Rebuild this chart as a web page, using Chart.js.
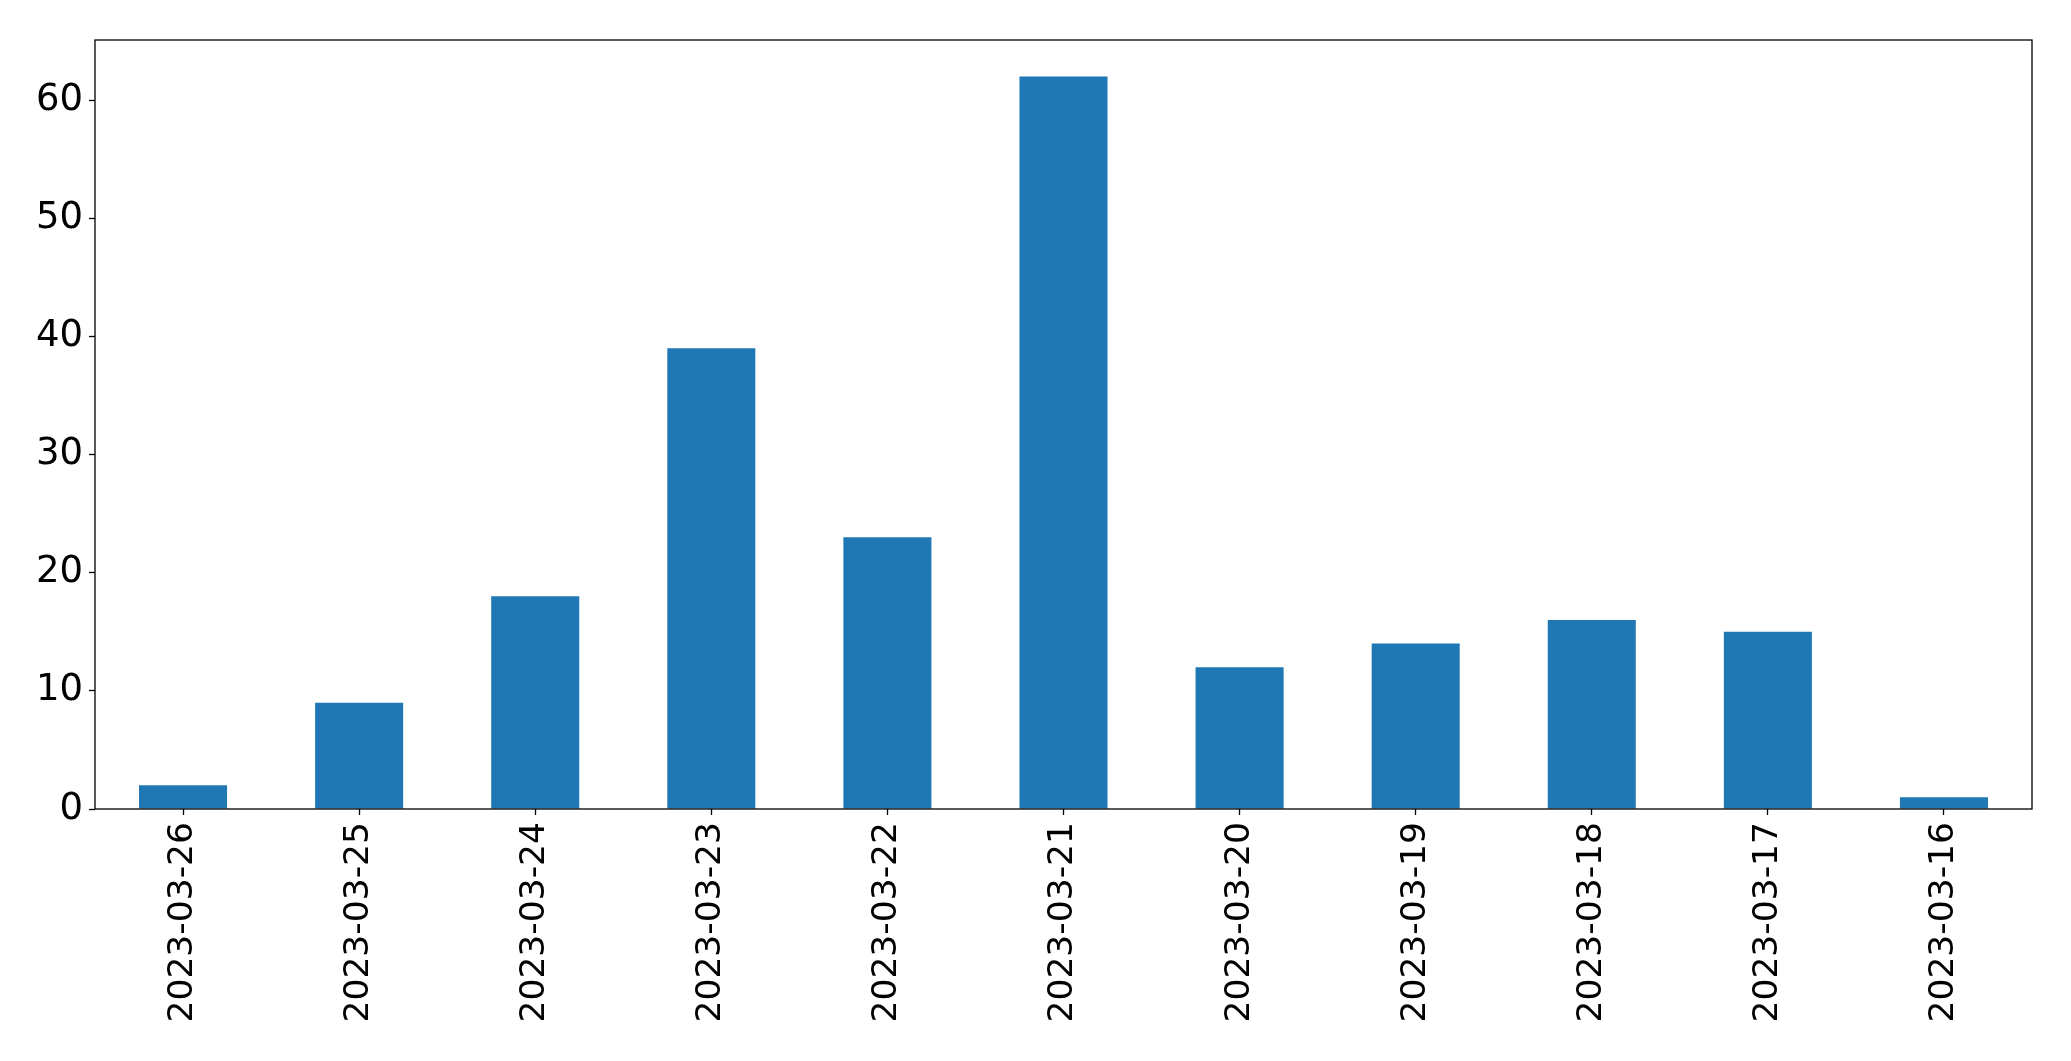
<!DOCTYPE html>
<html>
<head>
<meta charset="utf-8">
<script src="https://cdn.jsdelivr.net/npm/chart.js@4.4.0/dist/chart.umd.min.js"></script>
<style>
  html, body { margin: 0; padding: 0; background: #fff; }
  #wrap { width: 2071px; height: 1061px; }
</style>
</head>
<body>
<div id="wrap"><canvas id="barChart" width="2071" height="1061"></canvas></div>
<script>
// data
const dates = ["2023-03-26", "2023-03-25", "2023-03-24", "2023-03-23", "2023-03-22", "2023-03-21",
               "2023-03-20", "2023-03-19", "2023-03-18", "2023-03-17", "2023-03-16"];
const counts = [2, 9, 18, 39, 23, 62, 12, 14, 16, 15, 1];
const yTicks = [0, 10, 20, 30, 40, 50, 60];

const FONT = "'DejaVu Sans', sans-serif";

// full black box round the plot area
const frame = {
    id: "frame",
    afterDraw(chart) {
        const a = chart.chartArea;
        const c = chart.ctx;
        c.save();
        c.strokeStyle = "#000";
        c.lineWidth = 1.3;
        c.strokeRect(a.left, a.top, a.right - a.left, a.bottom - a.top);
        c.restore();
    }
};

new Chart(document.getElementById("barChart"), {
    type: "bar",
    data: {
        labels: dates,
        datasets: [{
            data: counts,
            backgroundColor: "#1f77b4",
            categoryPercentage: 1,
            barPercentage: 0.5
        }]
    },
    options: {
        responsive: false,
        animation: false,
        layout: { padding: { top: 40, right: 39, left: 0, bottom: 0 } },
        plugins: { legend: { display: false }, tooltip: { enabled: false } },
        scales: {
            x: {
                grid: { drawOnChartArea: false, offset: false, tickLength: 6, color: "#000", tickWidth: 1.3 },
                border: { display: false },
                ticks: {
                    color: "#000",
                    font: { family: FONT, size: 34.5 },
                    minRotation: 90, maxRotation: 90,
                    padding: 7,
                    autoSkip: false
                },
                afterFit(s) { s.height = 252; }
            },
            y: {
                min: 0, max: 65.1,
                grid: { drawOnChartArea: false, tickLength: 6, color: "#000", tickWidth: 1.3 },
                border: { display: false },
                afterBuildTicks(s) { s.ticks = yTicks.map(v => ({ value: v })); },
                ticks: {
                    color: "#000",
                    font: { family: FONT, size: 37 },
                    padding: 6
                },
                afterFit(s) { s.width = 95; }
            }
        }
    },
    plugins: [frame]
});
</script>
</body>
</html>
